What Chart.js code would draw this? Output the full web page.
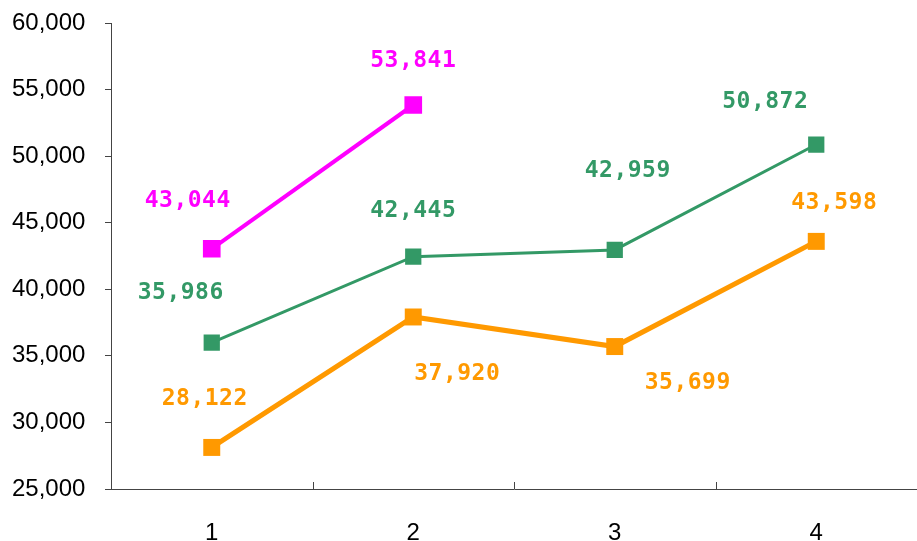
<!DOCTYPE html>
<html>
<head>
<meta charset="utf-8">
<script src="https://cdn.jsdelivr.net/npm/chart.js@4"></script>
<style>
  html, body { margin: 0; padding: 0; background: #fff; }
  #wrap { width: 917px; height: 541px; }
</style>
</head>
<body>
<div id="wrap"><canvas id="chart" width="917" height="541"></canvas></div>
<script>
const categories = ['1', '2', '3', '4'];
const magentaValues = [43044, 53841, null, null];
const greenValues = [35986, 42445, 42959, 50872];
const orangeValues = [28122, 37920, 35699, 43598];

// label placement relative to each point (px)
const magentaLabelPos = [[-24, -48], [0, -44]];
const greenLabelPos = [[-31, -50], [0, -46], [13, -79], [-51, -43]];
const orangeLabelPos = [[-7, -48], [44, 57], [73, 36], [18, -38]];

const fmt = v => v.toLocaleString('en-US');

const labelPlugin = {
  id: 'pointLabels',
  afterDatasetsDraw(chart) {
    const ctx = chart.ctx;
    ctx.save();
    ctx.font = 'bold 23px "DejaVu Sans Mono"';
    ctx.letterSpacing = '0.5px';
    ctx.textAlign = 'center';
    ctx.textBaseline = 'middle';
    chart.data.datasets.forEach((ds, di) => {
      const meta = chart.getDatasetMeta(di);
      meta.data.forEach((pt, i) => {
        const v = ds.data[i];
        if (v == null) return;
        const off = ds.labelPos[i];
        ctx.fillStyle = ds.borderColor;
        ctx.fillText(fmt(v), pt.x + off[0], pt.y + off[1]);
      });
    });
    ctx.restore();
  }
};

const xTickPlugin = {
  id: 'xInnerTicks',
  afterDraw(chart) {
    const x = chart.scales.x;
    const ctx = chart.ctx;
    ctx.save();
    ctx.strokeStyle = '#444';
    ctx.lineWidth = 1;
    for (let i = 0; i < categories.length - 1; i++) {
      const px = Math.round((x.getPixelForTick(i) + x.getPixelForTick(i + 1)) / 2) + 0.5;
      ctx.beginPath();
      ctx.moveTo(px, x.top);
      ctx.lineTo(px, x.top - 7);
      ctx.stroke();
    }
    ctx.restore();
  }
};

new Chart(document.getElementById('chart'), {
  type: 'line',
  data: {
    labels: categories,
    datasets: [
      {
        data: magentaValues,
        borderColor: '#FF00FF',
        backgroundColor: '#FF00FF',
        borderWidth: 4,
        pointStyle: 'rect',
        pointRadius: 12.5,
        pointBorderWidth: 0,
        labelPos: magentaLabelPos,
        spanGaps: false
      },
      {
        data: greenValues,
        borderColor: '#339966',
        backgroundColor: '#339966',
        borderWidth: 3,
        pointStyle: 'rect',
        pointRadius: 11.5,
        pointBorderWidth: 0,
        labelPos: greenLabelPos
      },
      {
        data: orangeValues,
        borderColor: '#FF9900',
        backgroundColor: '#FF9900',
        borderWidth: 5,
        pointStyle: 'rect',
        pointRadius: 12,
        pointBorderWidth: 0,
        labelPos: orangeLabelPos
      }
    ]
  },
  options: {
    responsive: false,
    animation: false,
    layout: { autoPadding: false, padding: { top: 23, right: 0, left: 12, bottom: 0 } },
    plugins: {
      legend: { display: false },
      tooltip: { enabled: false }
    },
    scales: {
      x: {
        offset: true,
        grid: { display: false },
        border: { display: true, color: '#444', width: 1 },
        ticks: {
          color: '#000',
          padding: 22,
          font: { family: 'Liberation Sans', size: 24 }
        },
        afterFit(scale) { scale.height = 52; }
      },
      y: {
        min: 25000,
        max: 60000,
        grid: { drawOnChartArea: false, drawTicks: true, tickLength: 6, color: '#444' },
        border: { display: true, color: '#444', width: 1 },
        ticks: {
          stepSize: 5000,
          color: '#000',
          padding: 3,
          crossAlign: 'far',
          font: { family: 'Liberation Sans', size: 24 },
          callback: v => fmt(v)
        },
        afterFit(scale) { scale.width = 99; }
      }
    }
  },
  plugins: [labelPlugin, xTickPlugin]
});
</script>
</body>
</html>
